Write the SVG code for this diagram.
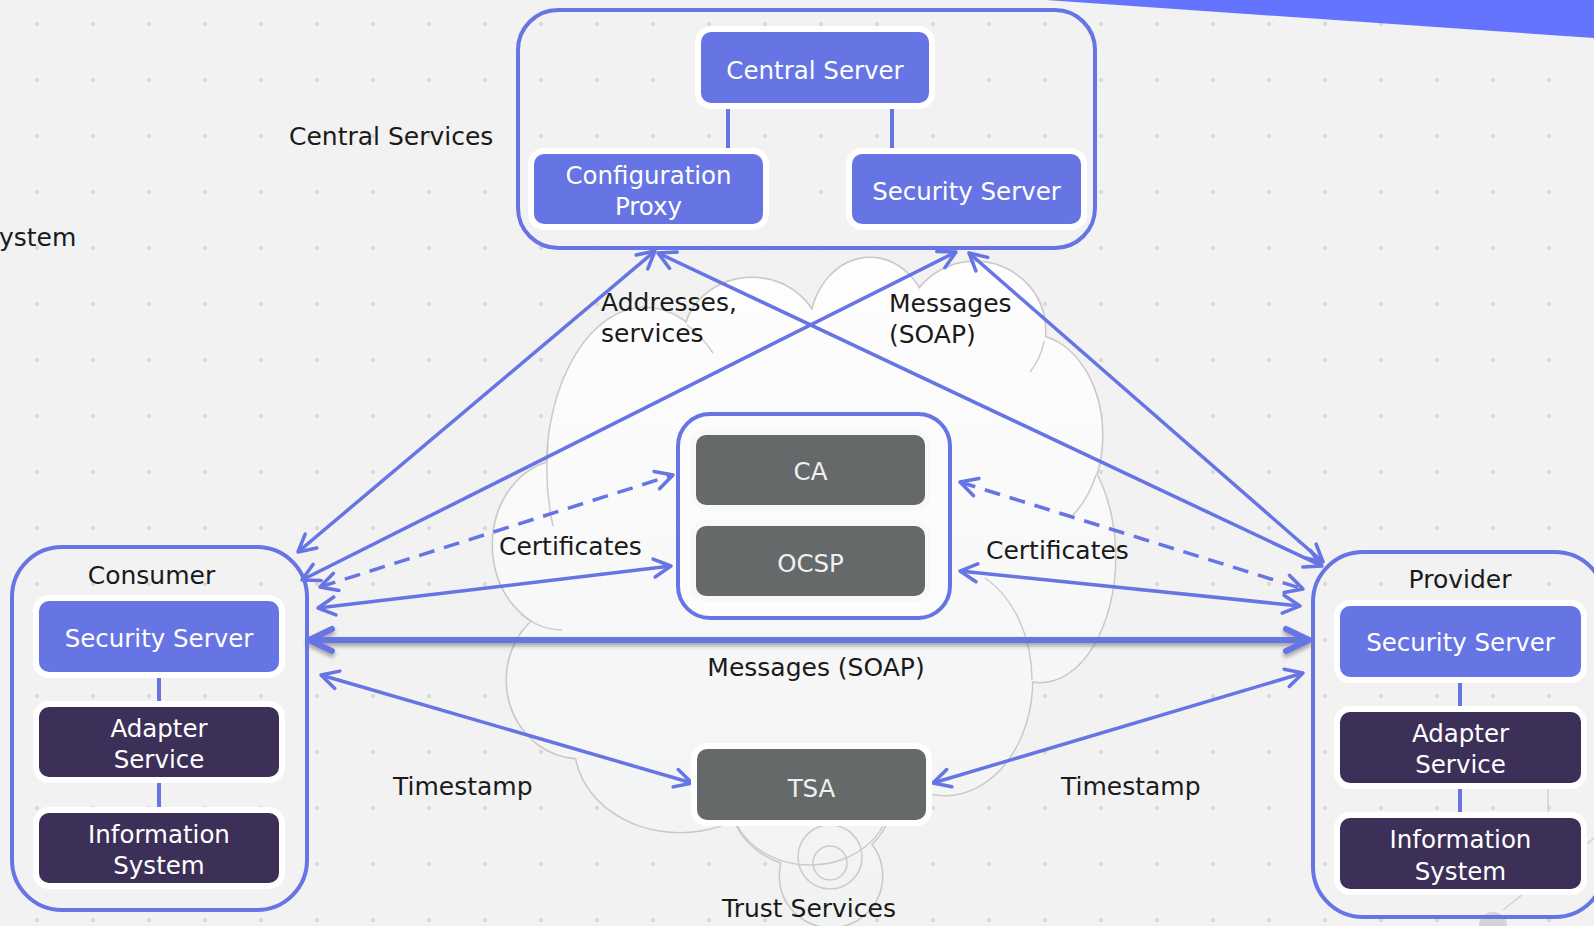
<svg xmlns="http://www.w3.org/2000/svg" width="1594" height="926" viewBox="0 0 1594 926">
<style>
.lbl{font-family:"DejaVu Sans","Liberation Sans",sans-serif;font-size:25px;fill:#1a1a1a}
.wt{font-family:"DejaVu Sans","Liberation Sans",sans-serif;font-size:24.5px;fill:#ffffff;text-anchor:middle}
.gt{font-family:"DejaVu Sans","Liberation Sans",sans-serif;font-size:24.5px;fill:#f0f0f0;text-anchor:middle}
.mid{text-anchor:middle}
.bb{fill:#6674e4;stroke:#ffffff;stroke-width:12;paint-order:stroke}
.bd{fill:#3c3058;stroke:#ffffff;stroke-width:12;paint-order:stroke}
.bg{fill:#66696a;stroke:#ffffff;stroke-width:12;paint-order:stroke}
.frame{fill:none;stroke:#6674e4;stroke-width:4}
.link{stroke:#6674e4;stroke-width:4;fill:none}
.arr{stroke:#6674e4;stroke-width:3.5;fill:none;marker-start:url(#ah);marker-end:url(#ah)}
.dash{stroke-dasharray:16 10}
.thick{stroke:#6674e4;stroke-width:6;fill:none;marker-start:url(#ahb);marker-end:url(#ahb)}
</style>
<defs>
<pattern id="dots" x="9" y="-4" width="56" height="56" patternUnits="userSpaceOnUse"><circle cx="28" cy="28" r="2.2" fill="#d9d9d9"/></pattern>
<linearGradient id="cloudFill" x1="0" y1="255" x2="0" y2="926" gradientUnits="userSpaceOnUse"><stop offset="0" stop-color="#fefefe"/><stop offset="1" stop-color="#f1f2f2"/></linearGradient>
<marker id="ah" viewBox="-22 -12 26 24" refX="0" refY="0" markerWidth="26" markerHeight="24" markerUnits="userSpaceOnUse" orient="auto-start-reverse" overflow="visible"><path d="M-17,-9 L0,0 L-17,9" fill="none" stroke="#6674e4" stroke-width="3.5" stroke-linecap="round" stroke-linejoin="round"/></marker>
<marker id="ahb" viewBox="-30 -16 34 32" refX="0" refY="0" markerWidth="34" markerHeight="32" markerUnits="userSpaceOnUse" orient="auto-start-reverse" overflow="visible"><path d="M-23,-11 L0,0 L-23,11" fill="none" stroke="#6674e4" stroke-width="6" stroke-linecap="round" stroke-linejoin="round"/></marker>
<filter id="shadow" filterUnits="userSpaceOnUse" x="280" y="600" width="1060" height="90"><feDropShadow dx="0" dy="3" stdDeviation="2" flood-color="#000000" flood-opacity="0.35"/></filter>
<g id="lobes">
<ellipse cx="645" cy="470" rx="98" ry="162"/>
<ellipse cx="752" cy="340" rx="68" ry="62"/>
<ellipse cx="870" cy="330" rx="60" ry="72"/>
<ellipse cx="975" cy="330" rx="70" ry="68"/>
<ellipse cx="1030" cy="435" rx="72" ry="100"/>
<ellipse cx="1040" cy="557" rx="75" ry="125"/>
<ellipse cx="945" cy="680" rx="87" ry="115"/>
<ellipse cx="811" cy="800" rx="80" ry="67"/>
<ellipse cx="580" cy="680" rx="73" ry="78"/>
<ellipse cx="680" cy="745" rx="105" ry="87"/>
<ellipse cx="565" cy="545" rx="72" ry="85"/>
<circle cx="831" cy="876" r="51"/>
</g>
</defs>

<g id="background">
<rect x="0" y="0" width="1594" height="926" fill="#f2f2f2"/>
<rect x="0" y="0" width="1594" height="926" fill="url(#dots)"/>
<polygon points="1046,0 1594,0 1594,38" fill="#6574fe"/>
<line x1="1503" y1="910" x2="1594" y2="838" stroke="#d2d2d2" stroke-width="1.5"/>
<line x1="1548" y1="785" x2="1548" y2="815" stroke="#d2d2d2" stroke-width="1.5"/>
<circle cx="1493" cy="926" r="14" fill="#d4d4d4"/>
</g>

<g id="cloud">
<use href="#lobes" fill="none" stroke="#c9c9c9" stroke-width="3"/>
<use href="#lobes" fill="url(#cloudFill)" stroke="none"/>
<ellipse cx="810" cy="540" rx="240" ry="230" fill="url(#cloudFill)"/>
<g fill="none" stroke="#cbcbcb" stroke-width="1.5">
<path d="M687 325 A98 162 0 0 1 713 353"/>
<path d="M1044 341 A70 68 0 0 1 1030 372"/>
<path d="M1096 475 A72 100 0 0 1 1073 515"/>
<path d="M985 578 A87 115 0 0 1 1032 680"/>
<path d="M521 614 A72 85 0 0 0 562 630"/>
<path d="M548 445 A98 162 0 0 0 553 526"/>
<path d="M737 825 A80 67 0 0 0 885 822"/>
<circle cx="830" cy="863" r="17"/>
<circle cx="830" cy="857" r="32"/>
</g>
</g>

<g id="central-services">
<rect class="frame" x="518" y="10" width="577" height="238" rx="40"/>
<text class="lbl" x="289" y="145">Central Services</text>
</g>
<text class="lbl" x="-1" y="246">ystem</text>

<g id="trust-services">
<rect x="678" y="414" width="272" height="204" rx="32" fill="#fcfcfc" stroke="#6674e4" stroke-width="4"/>
<text class="lbl mid" x="809" y="917">Trust Services</text>
</g>

<g id="connectors">
<line class="link" x1="728" y1="103" x2="728" y2="154"/>
<line class="link" x1="892" y1="103" x2="892" y2="154"/>
<line class="link" x1="159" y1="672" x2="159" y2="707"/>
<line class="link" x1="159" y1="777" x2="159" y2="813"/>
<line class="link" x1="1460" y1="677" x2="1460" y2="712"/>
<line class="link" x1="1460" y1="783" x2="1460" y2="818"/>
<line class="arr" x1="298" y1="552" x2="655" y2="251"/>
<line class="arr" x1="302" y1="580" x2="956" y2="252"/>
<line class="arr" x1="658" y1="253" x2="1322" y2="566"/>
<line class="arr" x1="969" y1="253" x2="1323" y2="562"/>
<line class="arr dash" x1="320" y1="587" x2="673" y2="475"/>
<line class="arr" x1="318" y1="608" x2="671" y2="566"/>
<line class="arr dash" x1="960" y1="482" x2="1303" y2="589"/>
<line class="arr" x1="960" y1="571" x2="1300" y2="606"/>
<line class="thick" x1="309" y1="640" x2="1309" y2="640" filter="url(#shadow)"/>
<line class="arr" x1="321" y1="675" x2="692" y2="783"/>
<line class="arr" x1="933" y1="783" x2="1303" y2="673"/>
</g>

<g id="edge-labels">
<text class="lbl" x="601" y="311">Addresses,</text>
<text class="lbl" x="601" y="342">services</text>
<text class="lbl" x="889" y="312">Messages</text>
<text class="lbl" x="889" y="343">(SOAP)</text>
<text class="lbl" x="499" y="555">Certificates</text>
<text class="lbl" x="986" y="559">Certificates</text>
<text class="lbl mid" x="816" y="676">Messages (SOAP)</text>
<text class="lbl" x="393" y="795">Timestamp</text>
<text class="lbl" x="1061" y="795">Timestamp</text>
</g>

<g id="central-server"><rect class="bb" x="701" y="32" width="228" height="71" rx="10"/><text class="wt" x="815" y="79">Central Server</text></g>
<g id="configuration-proxy"><rect class="bb" x="534" y="154" width="229" height="70" rx="10"/><text class="wt" x="648.5" y="184">Configuration</text><text class="wt" x="648.5" y="215">Proxy</text></g>
<g id="central-security-server"><rect class="bb" x="852" y="154" width="229" height="70" rx="10"/><text class="wt" x="966.5" y="200">Security Server</text></g>

<g id="ca"><rect class="bg" x="696" y="435" width="229" height="70" rx="10" style="stroke:#f8f8f8"/><text class="gt" x="810.5" y="480">CA</text></g>
<g id="ocsp"><rect class="bg" x="696" y="526" width="229" height="70" rx="10" style="stroke:#f8f8f8"/><text class="gt" x="810.5" y="572">OCSP</text></g>
<g id="tsa"><rect class="bg" x="697" y="749" width="229" height="71" rx="10"/><text class="gt" x="811.5" y="797">TSA</text></g>

<g id="consumer">
<rect class="frame" x="12" y="547" width="295" height="363" rx="50"/>
<text class="lbl mid" x="151.5" y="584">Consumer</text>
</g>
<g id="consumer-security-server"><rect class="bb" x="39" y="601" width="240" height="71" rx="10"/><text class="wt" x="159" y="647">Security Server</text></g>
<g id="consumer-adapter-service"><rect class="bd" x="39" y="707" width="240" height="70" rx="10"/><text class="wt" x="159" y="737">Adapter</text><text class="wt" x="159" y="768">Service</text></g>
<g id="consumer-information-system"><rect class="bd" x="39" y="813" width="240" height="70" rx="10"/><text class="wt" x="159" y="843">Information</text><text class="wt" x="159" y="874">System</text></g>

<g id="provider">
<rect class="frame" x="1313" y="552" width="292" height="365" rx="50"/>
<text class="lbl mid" x="1460" y="588">Provider</text>
</g>
<g id="provider-security-server"><rect class="bb" x="1340" y="606" width="241" height="71" rx="10"/><text class="wt" x="1460.5" y="651">Security Server</text></g>
<g id="provider-adapter-service"><rect class="bd" x="1340" y="712" width="241" height="71" rx="10"/><text class="wt" x="1460.5" y="742">Adapter</text><text class="wt" x="1460.5" y="773">Service</text></g>
<g id="provider-information-system"><rect class="bd" x="1340" y="818" width="241" height="71" rx="10"/><text class="wt" x="1460.5" y="848">Information</text><text class="wt" x="1460.5" y="880">System</text></g>
</svg>
